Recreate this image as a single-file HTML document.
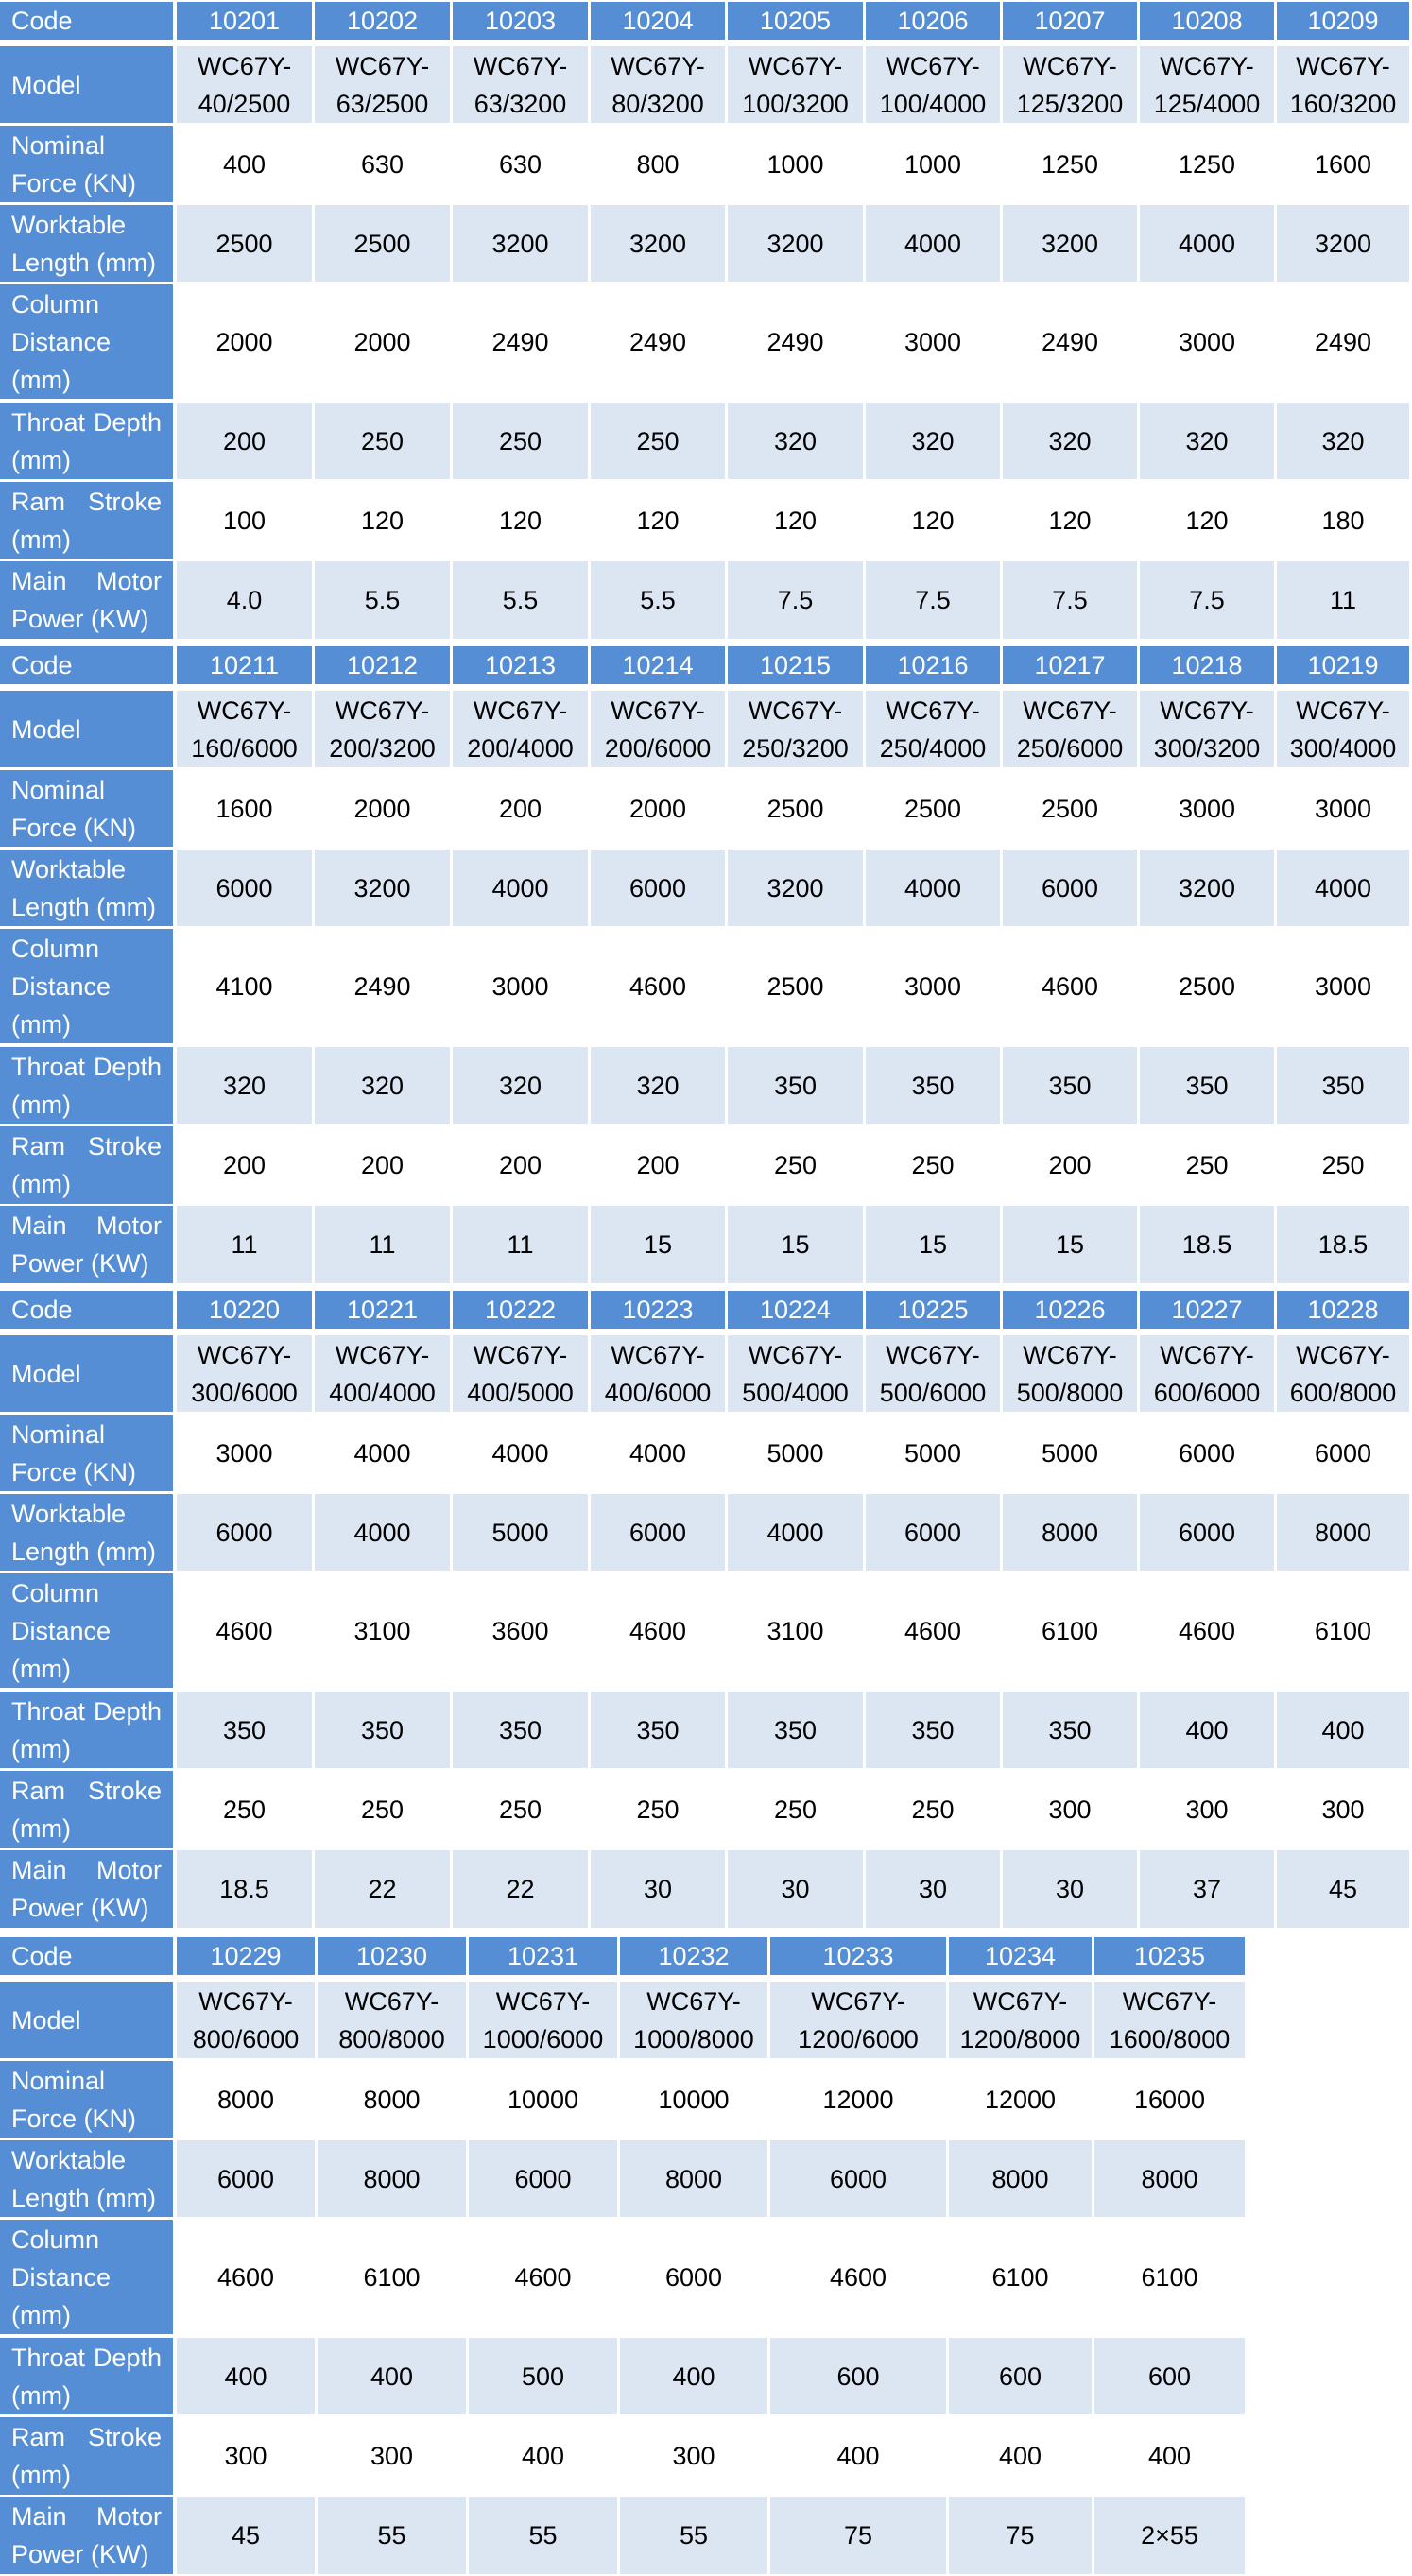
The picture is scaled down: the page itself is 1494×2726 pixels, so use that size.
<!DOCTYPE html>
<html><head><meta charset="utf-8">
<style>
html,body{margin:0;padding:0;background:#fff;}
body{width:1494px;height:2726px;position:relative;overflow:hidden;font-family:"Liberation Sans",Arial,sans-serif;}
.c{position:absolute;box-sizing:border-box;display:flex;flex-direction:column;justify-content:center;align-items:center;font-size:27px;line-height:40px;color:#000;text-align:center;}
.lab{background:#558ed5;color:#fff;align-items:stretch;padding-left:12px;padding-right:12px;text-align:left;}
.hd{background:#558ed5;color:#fff;}
.lt{background:#dce6f2;}
.wh{background:#fff;}
.j{display:flex;justify-content:space-between;}
</style></head>
<body>
<script>
const blocks=[
 {codes:["10201","10202","10203","10204","10205","10206","10207","10208","10209"],
  models:["40/2500","63/2500","63/3200","80/3200","100/3200","100/4000","125/3200","125/4000","160/3200"],
  force:["400","630","630","800","1000","1000","1250","1250","1600"],
  table:["2500","2500","3200","3200","3200","4000","3200","4000","3200"],
  column:["2000","2000","2490","2490","2490","3000","2490","3000","2490"],
  throat:["200","250","250","250","320","320","320","320","320"],
  ram:["100","120","120","120","120","120","120","120","180"],
  power:["4.0","5.5","5.5","5.5","7.5","7.5","7.5","7.5","11"]},
 {codes:["10211","10212","10213","10214","10215","10216","10217","10218","10219"],
  models:["160/6000","200/3200","200/4000","200/6000","250/3200","250/4000","250/6000","300/3200","300/4000"],
  force:["1600","2000","200","2000","2500","2500","2500","3000","3000"],
  table:["6000","3200","4000","6000","3200","4000","6000","3200","4000"],
  column:["4100","2490","3000","4600","2500","3000","4600","2500","3000"],
  throat:["320","320","320","320","350","350","350","350","350"],
  ram:["200","200","200","200","250","250","200","250","250"],
  power:["11","11","11","15","15","15","15","18.5","18.5"]},
 {codes:["10220","10221","10222","10223","10224","10225","10226","10227","10228"],
  models:["300/6000","400/4000","400/5000","400/6000","500/4000","500/6000","500/8000","600/6000","600/8000"],
  force:["3000","4000","4000","4000","5000","5000","5000","6000","6000"],
  table:["6000","4000","5000","6000","4000","6000","8000","6000","8000"],
  column:["4600","3100","3600","4600","3100","4600","6100","4600","6100"],
  throat:["350","350","350","350","350","350","350","400","400"],
  ram:["250","250","250","250","250","250","300","300","300"],
  power:["18.5","22","22","30","30","30","30","37","45"]},
 {codes:["10229","10230","10231","10232","10233","10234","10235"],
  models:["800/6000","800/8000","1000/6000","1000/8000","1200/6000","1200/8000","1600/8000"],
  force:["8000","8000","10000","10000","12000","12000","16000"],
  table:["6000","8000","6000","8000","6000","8000","8000"],
  column:["4600","6100","4600","6000","4600","6100","6100"],
  throat:["400","400","500","400","600","600","600"],
  ram:["300","300","400","300","400","400","400"],
  power:["45","55","55","55","75","75","2×55"]}
];
const tops=[2,684,1366,2050];
const rows=[[0,40],[47,81],[131,81],[215,81],[299,121],[424,81],[508,82],[592,82]];
const labels=[["Code"],["Model"],["Nominal","Force (KN)"],["Worktable","Length (mm)"],["Column","Distance","(mm)"],[["Throat","Depth"],"(mm)"],[["Ram","Stroke"],"(mm)"],[["Main","Motor"],"Power (KW)"]];
const keys=["codes","models","force","table","column","throat","ram","power"];
const rowNames=["code","model","nominal-force","worktable-length","column-distance","throat-depth","ram-stroke","main-motor-power"];
const edges9=[0,185,331,477,623,768,914,1059,1204,1349,1492];
const edges7=[0,185,334,494,654,813,1002,1156,1318];
function add(x,y,w,h,cls){const d=document.createElement('div');d.className='c '+cls;d.style.left=x+'px';d.style.top=y+'px';d.style.width=w+'px';d.style.height=h+'px';document.body.appendChild(d);return d;}
blocks.forEach((b,bi)=>{
 const e=b.codes.length===9?edges9:edges7;
 rows.forEach((r,ri)=>{
  const y=tops[bi]+r[0],h=r[1];
  const lab=add(0,y,e[1]-2,h,'lab');
  
  
  labels[ri].forEach(l=>{const s=document.createElement('div');
   if(Array.isArray(l)){s.className='j';s.innerHTML='<span>'+l[0]+'</span><span>'+l[1]+'</span>';}else s.textContent=l;
   lab.appendChild(s);});
  const cls=ri===0?'hd':(ri%2===1?'lt':'wh');
  b[keys[ri]].forEach((v,ci)=>{
   const x=e[ci+1]+2,w=e[ci+2]-e[ci+1]-3;
   const c=add(x,y,w,h,cls);
   
   
   if(ri===1){c.innerHTML='<div>WC67Y-</div><div>'+v+'</div>';}else c.textContent=v;
  });
 });
});
</script>
</body></html>
